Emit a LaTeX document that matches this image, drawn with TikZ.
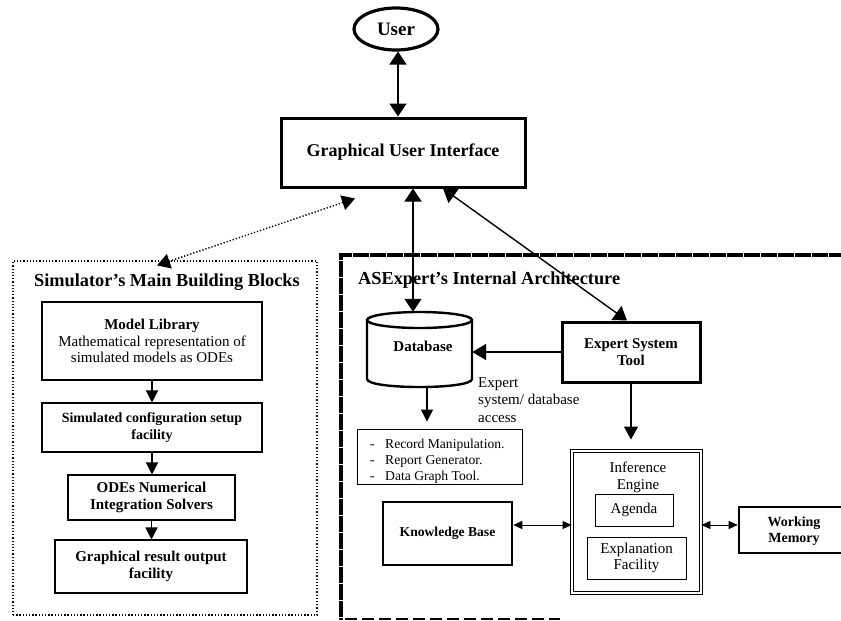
\documentclass[tikz,border=0pt]{standalone}
\usepackage{fontspec}
\setmainfont{Liberation Serif}
\usetikzlibrary{arrows.meta,shapes.geometric,calc}
\tikzset{
  tipbig/.style={-{Triangle[length=13pt,width=17pt]}},
  tipmed/.style={-{Triangle[length=12pt,width=12pt]}},
  dblbig/.style={{Triangle[length=13pt,width=17pt]}-{Triangle[length=13pt,width=17pt]}},
  dblsmall/.style={{Triangle[length=9pt,width=8pt]}-{Triangle[length=9pt,width=8pt]}},
  conn/.style={line width=1.4pt},
  simbox/.style={draw, line width=1.1pt, inner sep=0pt, align=center, font=\fontsize{15}{16.5}\selectfont\bfseries},
  thickbox/.style={draw, line width=3pt, inner sep=0pt, align=center, font=\fontsize{15}{17}\selectfont\bfseries},
  thinbox/.style={draw, line width=0.9pt, inner sep=0pt, align=center, font=\fontsize{15}{16}\selectfont},
  dotline/.style={line width=1.4pt, dash pattern=on 1.3pt off 1.9pt},
  titletext/.style={font=\fontsize{18.3}{20}\selectfont\bfseries, inner sep=0pt}
}
\begin{document}
\begin{tikzpicture}[x=1pt,y=-1pt]
\useasboundingbox (0,0) rectangle (841,621);
\clip (0,0) rectangle (841,621);
\fill[white] (0,0) rectangle (841,621);

% top
\node[draw, ellipse, line width=3.2pt, minimum width=84pt, minimum height=42pt, inner sep=0pt,
      font=\fontsize{19}{20}\selectfont\bfseries] (user) at (396,29) {\raisebox{-3pt}{User}};
\node[thickbox, minimum width=244pt, minimum height=69pt, font=\fontsize{18}{20}\selectfont\bfseries] (gui) at (403,152.5) {\raisebox{-5pt}{Graphical User Interface}};
\draw[conn, dblbig] ([xshift=2pt]user.south) -- ([xshift=2pt]user.south |- gui.north);

% simulator block
\node[draw, dotline, line width=1.2pt, minimum width=304pt, minimum height=354pt, inner sep=0pt] (sim) at (165,438) {};
\node[titletext] (simtitle) at (167,282) {Simulator’s Main Building Blocks};
\node[simbox, minimum width=220pt, minimum height=78pt, font=\fontsize{15}{16.5}\selectfont] (ml) at (152,341)
  {\textbf{Model Library}\\Mathematical representation of\\simulated models as ODEs};
\node[simbox, minimum width=220pt, minimum height=49pt, font=\fontsize{14}{16.5}\selectfont\bfseries] (scs) at (152,427.5) {Simulated configuration setup\\facility};
\node[simbox, minimum width=167pt, minimum height=45pt] (ode) at (151.5,497.5) {ODEs Numerical\\Integration Solvers};
\node[simbox, minimum width=192pt, minimum height=53pt] (gro) at (151,566.5) {Graphical result output\\facility};
\draw[conn, tipmed] (ml.south) -- (ml.south |- scs.north);
\draw[conn, tipmed] (scs.south) -- (scs.south |- ode.north);
\draw[conn, tipmed] (ode.south) -- (ode.south |- gro.north);

\draw[dotline, {Triangle[length=13pt,width=15pt]}-{Triangle[length=13pt,width=15pt]}]
  ([xshift=-8pt,yshift=-5pt]sim.north) -- ([xshift=-48pt,yshift=-10pt]gui.south);

% ASExpert frame
\draw[line width=3.4pt, dash pattern=on 16pt off 1pt] (845,255) -- (341,255) -- (341,620);
\draw[line width=2pt, dash pattern=on 12pt off 5pt] (345,619) -- (560,619);
\node[titletext, anchor=west] (astitle) at (358,280) {ASExpert’s Internal Architecture};

% database cylinder
\node[minimum width=105pt, minimum height=75pt, inner sep=0pt] (db) at (419.5,349.5) {};
\draw[line width=2.4pt, fill=white] (367,320) -- (367,379) .. controls (367,389.7) and (472,389.7) .. (472,379) -- (472,320);
\draw[line width=2.4pt] (419.5,320) ellipse [x radius=52.5, y radius=8];
\node[font=\fontsize{15}{16}\selectfont\bfseries, inner sep=0pt] (dblabel) at (423,346) {Database};

\node[thickbox, minimum width=138pt, minimum height=60pt] (est) at (631,352) {Expert System\\Tool};

\draw[conn, dblbig] ([xshift=-6.5pt]db.north |- gui.south) -- ([xshift=-6.5pt]db.north);
\draw[conn, dblbig] ([xshift=40pt]gui.south) -- ([xshift=-4pt]est.north);
\draw[conn, -{Triangle[length=14pt,width=16pt]}] (est.west) -- (est.west -| db.east);

\node[anchor=west, align=left, inner sep=0pt, font=\fontsize{15}{17.5}\selectfont] (access) at (478,400)
  {Expert\\system/ database\\access};

\node[thinbox, minimum width=165pt, minimum height=55pt] (bul) at (439.5,456.5) {};
\node[anchor=west, align=left, inner sep=0pt, font=\fontsize{13.6}{16}\selectfont] (bultext) at (370,461)
  {\makebox[15pt][l]{-}Record Manipulation.\\\makebox[15pt][l]{-}Report Generator.\\\makebox[15pt][l]{-}Data Graph Tool.};
\draw[conn, tipmed] ([xshift=7.5pt]db.south) -- ($([xshift=7.5pt]db.south |- bul.north)+(0,-7)$);

% inference engine
\node[draw, double, double distance=1.6pt, line width=0.9pt, minimum width=129pt, minimum height=142pt, inner sep=0pt] (ie) at (636.5,522) {};
\node[font=\fontsize{15}{17}\selectfont, align=center, inner sep=0pt] (ietitle) at (638,477.5) {Inference\\Engine};
\node[thinbox, minimum width=78pt, minimum height=32pt] (agenda) at (634,510) {Agenda};
\node[thinbox, minimum width=99pt, minimum height=42pt] (expl) at (636.5,558) {Explanation\\Facility};
\draw[conn, -{Triangle[length=13pt,width=14pt]}] (est.south) -- ($(est.south |- ie.north)+(0,-11)$);

\node[draw, line width=2.6pt, minimum width=129pt, minimum height=63pt, inner sep=0pt,
      font=\fontsize{13.6}{16}\selectfont\bfseries] (kb) at (447.5,533.5) {Knowledge Base};
\node[draw, line width=2.6pt, minimum width=110pt, minimum height=46pt, inner sep=0pt] (wm) at (794,530) {};
\node[font=\fontsize{14}{16}\selectfont\bfseries, align=center, inner sep=0pt] (wmtext) at (794,531) {Working\\Memory};

\draw[line width=0.9pt, dblsmall] ([yshift=8.5pt]kb.east) -- ([yshift=8.5pt]kb.east -| ie.west);
\draw[line width=0.9pt, dblsmall] ([yshift=-3pt]ie.east) -- ([yshift=-3pt]ie.east -| wm.west);
\end{tikzpicture}
\end{document}
